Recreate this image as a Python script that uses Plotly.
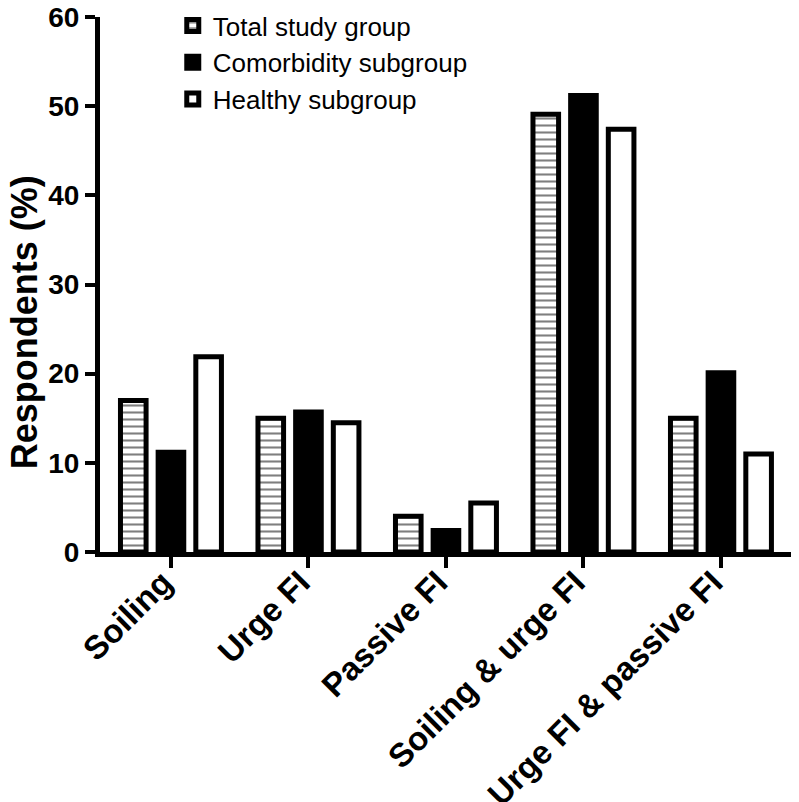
import plotly.graph_objects as go

categories = ["Soiling", "Urge FI", "Passive FI", "Soiling & urge FI", "Urge FI & passive FI"]
total_study = [17.0, 15.0, 4.0, 49.1, 15.0]
comorbidity = [11.2, 15.7, 2.4, 51.2, 20.1]
healthy = [21.9, 14.5, 5.5, 47.4, 11.0]
y_ticks = [0, 10, 20, 30, 40, 50, 60]
y_title = "Respondents (%)"

font = "Arial, Liberation Sans, sans-serif"
outline = dict(color="black", width=5)

fig = go.Figure()
fig.add_bar(x=categories, y=total_study, name="Total study group",
            marker=dict(color="white", line=outline,
                        pattern=dict(shape="-", fgcolor="black", bgcolor="white", size=7, solidity=0.3)))
fig.add_bar(x=categories, y=comorbidity, name="Comorbidity subgroup",
            marker=dict(color="black", line=outline))
fig.add_bar(x=categories, y=healthy, name="Healthy subgroup",
            marker=dict(color="white", line=outline))

# page body has an 8px margin, so the figure is sized to fit the 799x802 window
fig.update_layout(
    width=791, height=794,
    margin=dict(l=92, r=6, t=9, b=250, autoexpand=False),
    paper_bgcolor="white", plot_bgcolor="white",
    barmode="group", bargap=0.178, bargroupgap=0.32,
    showlegend=True,
    legend=dict(x=0.105, y=1.028, xanchor="left", yanchor="top",
                font=dict(family=font, size=26, color="black"),
                bgcolor="rgba(0,0,0,0)", tracegroupgap=0),
    font=dict(family=font, color="black"),
    annotations=[dict(text=y_title, xref="paper", yref="paper", x=-0.1414, y=0.4286,
                      textangle=-90, showarrow=False, xanchor="left", yanchor="middle",
                      font=dict(family=font, size=36, color="black", weight="bold"))],
)
fig.update_xaxes(
    range=[-0.516, 4.524], showline=True, linecolor="black", linewidth=5,
    ticks="outside", ticklen=11, tickwidth=4, tickcolor="black",
    tickangle=-45, tickfont=dict(family=font, size=33, color="black", weight="bold"),
    ticklabelstandoff=-18, ticklabelshift=-8,
    showgrid=False, zeroline=False, automargin=False,
)
fig.update_yaxes(
    range=[0, 60], tickvals=y_ticks, showline=True, linecolor="black", linewidth=5,
    ticks="outside", ticklen=10, tickwidth=4, tickcolor="black",
    tickfont=dict(family=font, size=28, color="black", weight="bold"),
    ticklabeloverflow="allow",
    showgrid=False, zeroline=False, automargin=False,
)
fig.write_html("out.html")
